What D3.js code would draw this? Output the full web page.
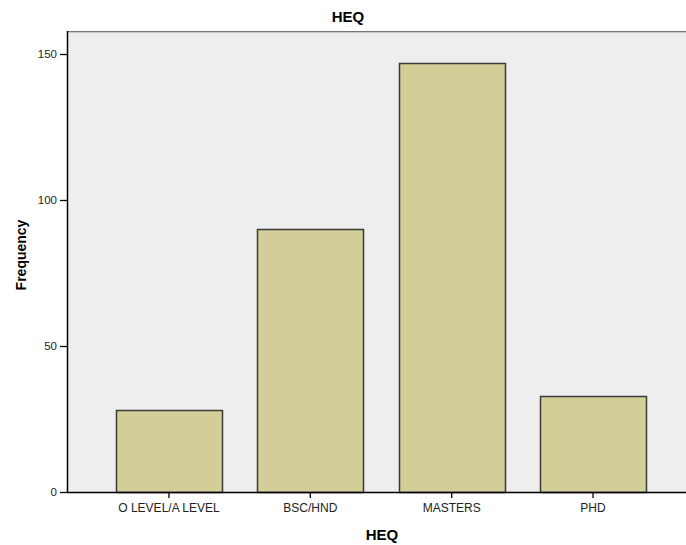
<!DOCTYPE html>
<html>
<head>
<meta charset="utf-8">
<script src="https://cdn.jsdelivr.net/npm/d3@7"></script>
<style>
  body { margin: 0; background: #fff; }
  svg { display: block; font-family: "Liberation Sans", Arial, sans-serif; }
</style>
</head>
<body>
<div id="chart"></div>
<script>
// data
const categories = ["O LEVEL/A LEVEL", "BSC/HND", "MASTERS", "PHD"];
const frequency = [28, 90, 147, 33];
const yTicks = [0, 50, 100, 150];

const W = 686, H = 545;
const plot = { left: 67, top: 31, right: 686, bottom: 492 };

const svg = d3.select("#chart").append("svg")
    .attr("width", W)
    .attr("height", H);

// Scales
const x = d3.scaleBand()
    .domain(categories)
    .range([98.3, 663.7])
    .paddingInner(0.25)
    .paddingOuter(0.125);

const y = d3.scaleLinear()
    .domain([0, 150])
    .range([plot.bottom, 54]);

// plot background
svg.append("rect")
    .attr("x", plot.left)
    .attr("y", plot.top)
    .attr("width", plot.right - plot.left)
    .attr("height", plot.bottom - plot.top)
    .attr("fill", "#eeeeee");

svg.append("line")
    .attr("x1", plot.left).attr("x2", plot.right)
    .attr("y1", plot.top + 0.5).attr("y2", plot.top + 0.5)
    .attr("stroke", "#777");
svg.append("line")
    .attr("x1", plot.left).attr("x2", plot.right)
    .attr("y1", plot.top + 1.5).attr("y2", plot.top + 1.5)
    .attr("stroke", "#c8c8c8");

// Bars
svg.selectAll(".bar")
    .data(categories)
    .enter()
    .append("rect")
    .attr("class", "bar")
    .attr("x", d => Math.round(x(d)) + 0.5)
    .attr("y", (d, i) => Math.round(y(frequency[i])) + 0.5)
    .attr("width", Math.round(x.bandwidth()))
    .attr("height", (d, i) => plot.bottom - Math.round(y(frequency[i])))
    .attr("fill", "#d3ce97")
    .attr("stroke", "#3a3a3a")
    .attr("stroke-width", 1.5);

// Axes
const yAxis = d3.axisLeft(y).tickValues(yTicks).tickSize(7).tickPadding(3).tickSizeOuter(0);
const xAxis = d3.axisBottom(x).tickSize(6).tickPadding(5).tickSizeOuter(0);

const gy = svg.append("g")
    .attr("transform", `translate(${plot.left},0)`)
    .call(yAxis);

const gx = svg.append("g")
    .attr("transform", `translate(0,${plot.bottom})`)
    .call(xAxis);

gx.select(".domain").attr("d", `M${plot.left},0.5H${plot.right}`);
gy.select(".domain").attr("d", `M0.5,${plot.top}V${plot.bottom}`);

[gx, gy].forEach(g => {
    g.select(".domain").attr("stroke", "#000").attr("stroke-width", 1.5);
    g.selectAll(".tick line").attr("stroke", "#000").attr("stroke-width", 1.3);
    g.selectAll(".tick text")
        .attr("fill", "#222")
        .style("font-family", "'Liberation Sans', Arial, sans-serif");
});
gx.selectAll(".tick text").style("font-size", "12px");
gy.selectAll(".tick text").style("font-size", "11.5px");

// Titles
svg.append("text")
    .attr("x", 348)
    .attr("y", 22)
    .attr("text-anchor", "middle")
    .attr("font-size", "15px")
    .attr("font-weight", "bold")
    .attr("fill", "#000")
    .text("HEQ");

svg.append("text")
    .attr("x", 382)
    .attr("y", 540)
    .attr("text-anchor", "middle")
    .attr("font-size", "15px")
    .attr("font-weight", "bold")
    .attr("fill", "#000")
    .text("HEQ");

svg.append("text")
    .attr("transform", "translate(26,255) rotate(-90)")
    .attr("text-anchor", "middle")
    .attr("font-size", "14px")
    .attr("font-weight", "bold")
    .attr("fill", "#000")
    .text("Frequency");
</script>
</body>
</html>
